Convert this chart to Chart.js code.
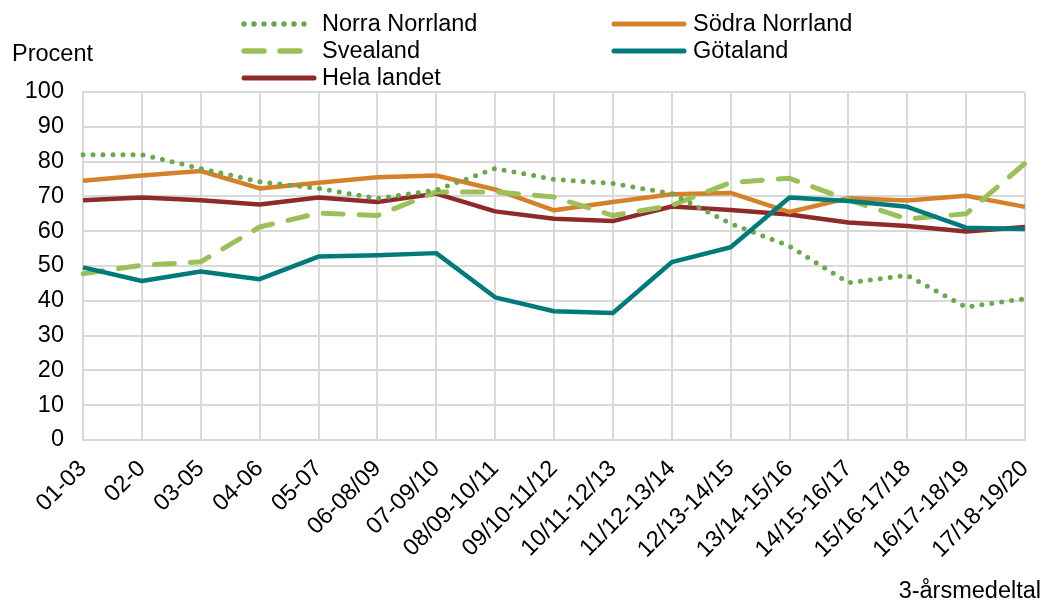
<!DOCTYPE html>
<html>
<head>
<meta charset="utf-8">
<script src="https://cdn.jsdelivr.net/npm/chart.js@4.4.1/dist/chart.umd.min.js"></script>
<style>
  html, body { margin: 0; padding: 0; background: #fff; }
  #wrap { position: relative; width: 1042px; height: 602px; font-family: "Liberation Sans", Arial, sans-serif; color: #000; }
  canvas { position: absolute; left: 0; top: 0; }
  .txt { position: absolute; font-size: 23.5px; line-height: 24px; white-space: nowrap; }
  .leg { position: absolute; height: 24px; font-size: 23.5px; line-height: 24px; white-space: nowrap; }
  .leg svg { position: absolute; left: 0; top: 0; }
  .leg span { position: absolute; top: 0; }
</style>
</head>
<body>
<div id="wrap">
  <canvas id="chart" width="1042" height="602"></canvas>
  <div class="txt" style="left:12px; top:41px;">Procent</div>
  <div class="txt" style="right:1px; top:578px;">3-årsmedeltal</div>
  <div id="legend"></div>
</div>
<script>
// --------- Data ----------
const labels = ["01-03", "02-0", "03-05", "04-06", "05-07", "06-08/09", "07-09/10",
  "08/09-10/11", "09/10-11/12", "10/11-12/13", "11/12-13/14", "12/13-14/15",
  "13/14-15/16", "14/15-16/17", "15/16-17/18", "16/17-18/19", "17/18-19/20"];

const norraNorrland = [82, 82, 78, 74.2, 72.3, 69.4, 71.8, 78, 74.9, 73.7, 70.8, 62.2, 55.7, 45.2, 47.3, 38.2, 40.6];
const sodraNorrland = [74.5, 76, 77.3, 72.3, 73.9, 75.5, 76, 72, 66, 68.4, 70.6, 71, 65.5, 69.5, 68.8, 70.2, 67];
const svealand = [47.8, 50.2, 51.2, 61.2, 65.2, 64.5, 71.3, 71.3, 69.8, 64.5, 67.4, 74, 75.2, 69, 63.5, 65, 79.5];
const gotaland = [49.6, 45.7, 48.4, 46.2, 52.7, 53.1, 53.7, 41, 37, 36.5, 51.1, 55.4, 69.7, 68.7, 67, 61, 60.6];
const helaLandet = [68.9, 69.7, 68.9, 67.7, 69.7, 68.4, 70.8, 65.7, 63.6, 62.9, 67.1, 66.1, 64.8, 62.5, 61.5, 59.9, 61.2];

const yTicks = [0, 10, 20, 30, 40, 50, 60, 70, 80, 90, 100];

// --------- Styles ----------
const FONT = "'Liberation Sans', Arial, sans-serif";
const FONT_SIZE = 23.5;
const GRID = "#d9d9d9";

const series = [
  { label: "Norra Norrland", data: norraNorrland, color: "#6aa84f", width: 5, dash: [0, 10], cap: "round" },
  { label: "Södra Norrland", data: sodraNorrland, color: "#d4812a", width: 4.5, dash: [], cap: "butt" },
  { label: "Svealand", data: svealand, color: "#9bc05a", width: 5, dash: [20, 16], cap: "round" },
  { label: "Götaland", data: gotaland, color: "#007a7a", width: 4.5, dash: [], cap: "butt" },
  { label: "Hela landet", data: helaLandet, color: "#8e2a2a", width: 4.5, dash: [], cap: "butt" }
];

// draw order roughly as in the reference
const drawOrder = [1, 3, 2, 0, 4];

const datasets = series.map((s, i) => ({
  label: s.label,
  data: s.data,
  borderColor: s.color,
  backgroundColor: s.color,
  borderWidth: s.width,
  borderDash: s.dash,
  borderCapStyle: s.cap,
  borderJoinStyle: "round",
  pointRadius: 0,
  tension: 0,
  fill: false,
  order: drawOrder[i]
}));

// --------- HTML legend (two columns) ----------
const legendPos = [
  { left: 240, top: 11 }, { left: 610, top: 11 },
  { left: 240, top: 38 }, { left: 610, top: 38 },
  { left: 240, top: 65 }
];
const legendEl = document.getElementById("legend");
series.forEach((s, i) => {
  const div = document.createElement("div");
  div.className = "leg";
  div.style.left = legendPos[i].left + "px";
  div.style.top = legendPos[i].top + "px";
  const dashAttr = s.dash.length ? `stroke-dasharray="${s.dash.join(" ")}"` : "";
  div.innerHTML = `<svg width="80" height="24"><line x1="4" y1="13" x2="74" y2="13" stroke="${s.color}" stroke-width="${s.width + 0.5}" stroke-linecap="round" ${dashAttr}/></svg><span style="left:${i % 2 ? 83 : 82}px">${s.label}</span>`;
  legendEl.appendChild(div);
});

// --------- Chart ----------
const ctx = document.getElementById("chart").getContext("2d");
new Chart(ctx, {
  type: "line",
  data: { labels, datasets },
  options: {
    responsive: false,
    animation: false,
    layout: { padding: { top: 92, right: 17, bottom: 12, left: 0 } },
    plugins: { legend: { display: false }, tooltip: { enabled: false } },
    scales: {
      x: {
        offset: false,
        grid: { color: GRID, lineWidth: 2, drawTicks: false },
        border: { color: GRID, width: 2 },
        ticks: {
          color: "#000",
          font: { family: FONT, size: FONT_SIZE },
          minRotation: 45,
          maxRotation: 45,
          autoSkip: false,
          padding: 15
        },
        afterFit: (scale) => {
          scale.height = 150;
          scale.paddingLeft = 0;
          scale.paddingRight = 0;
        }
      },
      y: {
        min: 0,
        max: 100,
        afterBuildTicks: (scale) => { scale.ticks = yTicks.map(v => ({ value: v })); },
        grid: { color: GRID, lineWidth: 2, drawTicks: false },
        border: { color: GRID, width: 2 },
        ticks: {
          color: "#000",
          font: { family: FONT, size: FONT_SIZE },
          padding: 19
        },
        afterFit: (scale) => {
          scale.width = 83;
          scale.paddingTop = 0;
          scale.paddingBottom = 0;
        }
      }
    }
  }
});
</script>
</body>
</html>
